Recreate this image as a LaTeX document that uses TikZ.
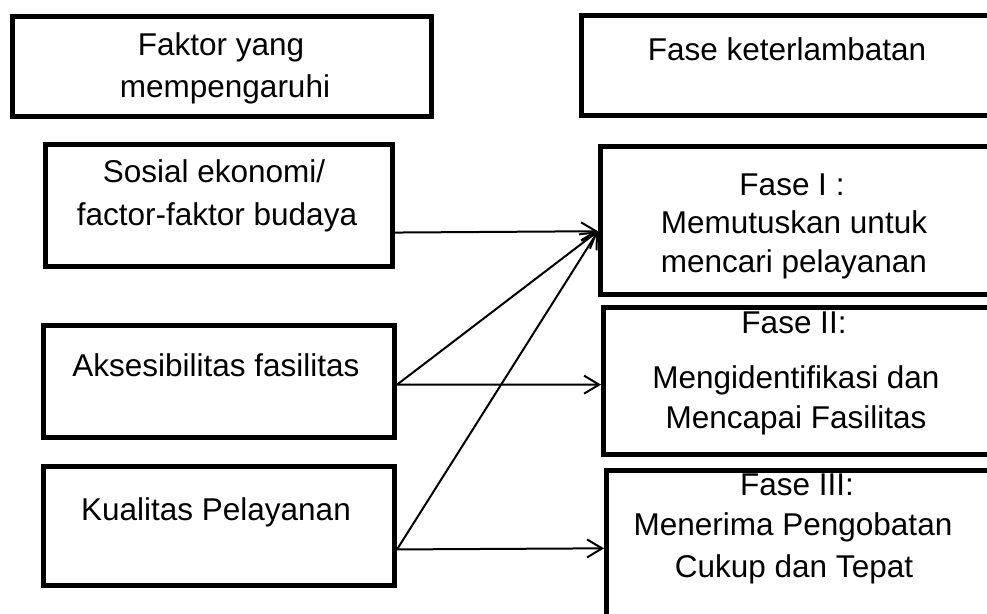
\documentclass[tikz,border=0pt]{standalone}
\usepackage{fontspec}
\setmainfont{Liberation Sans}
\usetikzlibrary{arrows.meta,calc}
\begin{document}
\begin{tikzpicture}[x=1pt,y=-1pt,
  box/.style={draw, line width=5pt, rectangle, inner sep=0pt, anchor=north west},
  txt/.style={anchor=base, inner sep=0pt, font=\fontsize{31.5}{38}\selectfont},
  conn/.style={line width=2pt, -{Straight Barb[length=15pt,width=18pt,line width=2pt]}}]
\useasboundingbox[fill=white] (0,0) rectangle (987,613);
\clip (0,0) rectangle (987,613);
% boxes
\node[box, minimum width=419pt, minimum height=100pt] (fa) at (10,14) {};
\node[box, minimum width=430pt, minimum height=100pt] (fb) at (579,13) {};
\node[box, minimum width=410pt, minimum height=148pt] (f1) at (598,144) {};
\node[box, minimum width=410pt, minimum height=147pt] (f2) at (601,305) {};
\node[box, minimum width=410pt, minimum height=170pt] (f3) at (604,468) {};
\node[box, minimum width=347pt, minimum height=122pt] (so) at (43,142) {};
\node[box, minimum width=351pt, minimum height=112pt] (ak) at (41,323) {};
\node[box, minimum width=351pt, minimum height=119pt] (ku) at (41,464) {};
% texts
\node[txt] (fa1) at (221,55) {Faktor yang};
\node[txt] (fa2) at (225,97) {mempengaruhi};
\node[txt] (fb1) at (787,60) {Fase keterlambatan};
\node[txt] (f1a) at (792,195) {Fase I :};
\node[txt] (f1b) at (794,233) {Memutuskan untuk};
\node[txt] (f1c) at (794,272) {mencari pelayanan};
\node[txt] (f2a) at (794,333) {Fase II:};
\node[txt] (f2b) at (796,388) {Mengidentifikasi dan};
\node[txt] (f2c) at (796,428) {Mencapai Fasilitas};
\node[txt] (f3a) at (797,495) {Fase III:};
\node[txt] (f3b) at (793,535) {Menerima Pengobatan};
\node[txt] (f3c) at (794,577) {Cukup dan Tepat};
\node[txt] (so1) at (214,182) {Sosial ekonomi/};
\node[txt] (so2) at (217,225) {factor-faktor budaya};
\node[txt] (ak1) at (216,376) {Aksesibilitas fasilitas};
\node[txt] (ku1) at (216,520) {Kualitas Pelayanan};
% connector ends
\coordinate (so-o) at ($(so.north east)!0.713!(so.south east)$);
\coordinate (ak-o) at ($(ak.north east)!0.527!(ak.south east)$);
\coordinate (ku-o) at ($(ku.north east)!0.689!(ku.south east)$);
\coordinate (f1-i) at ($(f1.north west)!0.57!(f1.south west)$);
\coordinate (f2-i) at ($(f2.north west)!0.524!(f2.south west)$);
\coordinate (f3-i) at ($(f3.north west)!0.459!(f3.south west)$);
% connectors
\draw[conn] (so-o) -- (f1-i);
\draw[conn] (ak-o) -- (f1-i);
\draw[conn] (ak-o) -- (f2-i);
\draw[conn] (ku-o) -- (f1-i);
\draw[conn] (ku-o) -- (f3-i);
\end{tikzpicture}
\end{document}
